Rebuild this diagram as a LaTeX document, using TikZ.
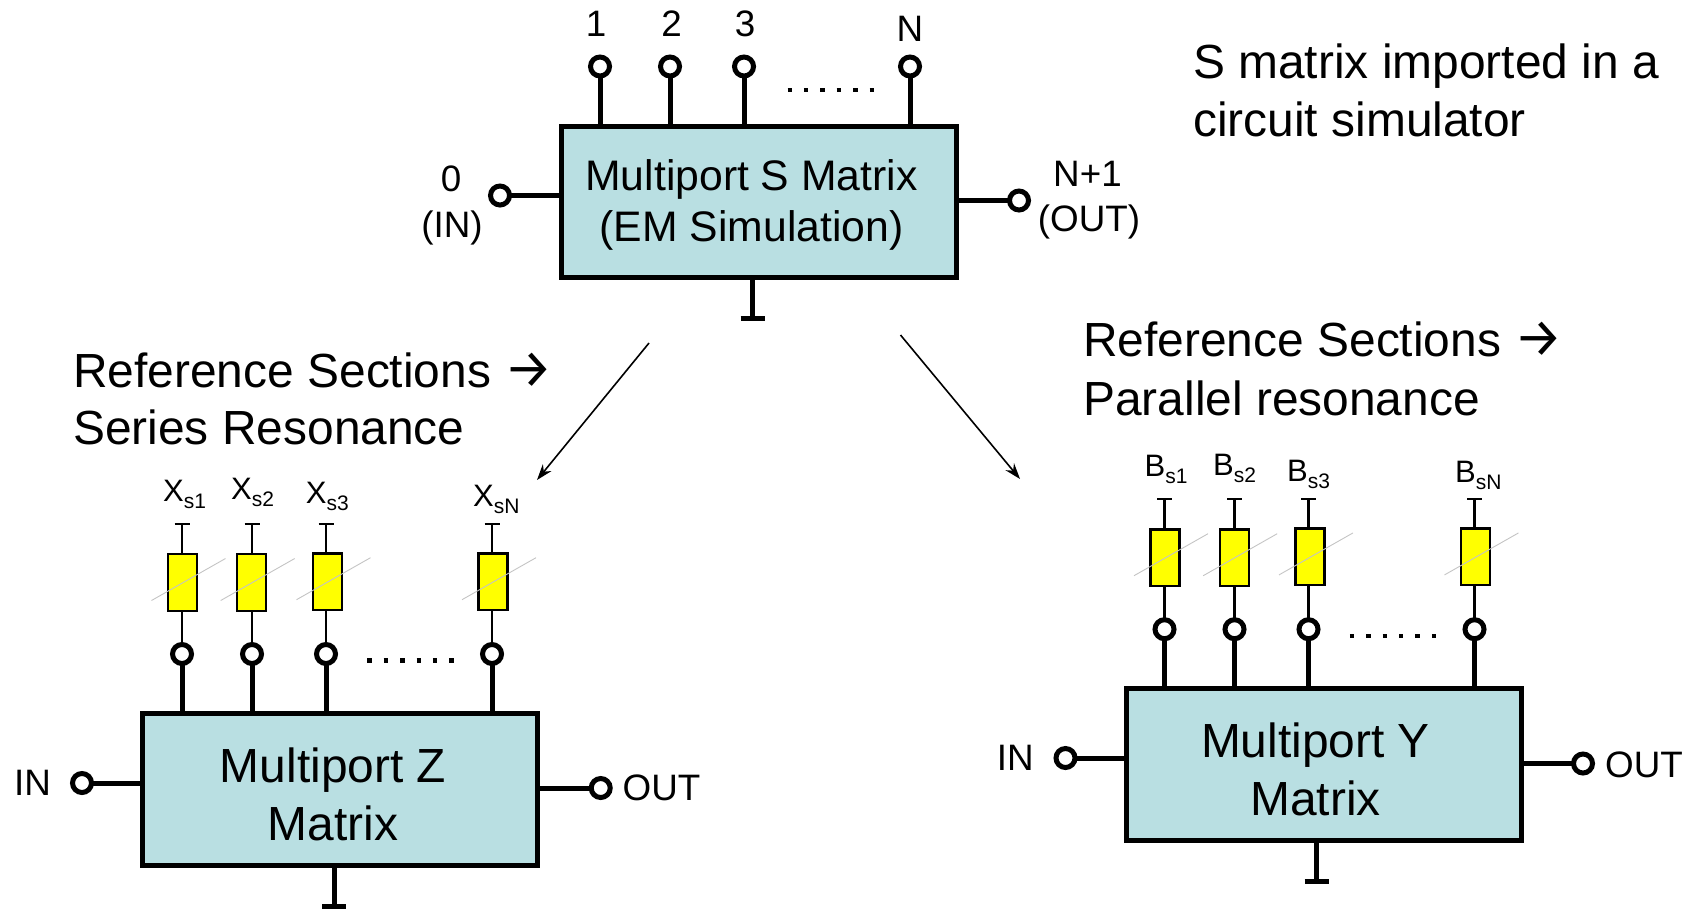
\documentclass[tikz,border=0pt]{standalone}
\usepackage{fontspec}
\setmainfont{Liberation Sans}
\newfontfamily\arrowfont{Fira Sans}
\usetikzlibrary{arrows.meta}
\definecolor{boxfill}{RGB}{185,223,226}
\definecolor{diag}{RGB}{196,196,196}
\definecolor{resoyellow}{RGB}{255,255,0}
\newcommand{\fbig}{\fontsize{47.9}{57}\selectfont}
\newcommand{\fmid}{\fontsize{42.7}{55}\selectfont}
\newcommand{\fsmall}{\fontsize{36.8}{46}\selectfont}
\newcommand{\flabel}{\fontsize{31}{36}\selectfont}
\newcommand{\fsub}{\fontsize{21}{24}\selectfont}
\newcommand{\rarr}{{\arrowfont\fontsize{54}{57}\selectfont →}}
\newcommand{\subl}[2]{#1\raisebox{-7pt}{\fsub #2}}
\tikzset{
  blockbox/.style={draw=black,line width=5pt,fill=boxfill,inner sep=0pt,outer sep=0pt,align=center},
  portring/.style={circle,draw=black,line width=5pt,fill=white,minimum size=19pt,inner sep=0pt,outer sep=0pt},
  wire/.style={draw=black,line width=5pt},
  thinwire/.style={draw=black,line width=2.3pt},
  reso/.style={draw=black,line width=2.4pt,fill=resoyellow,minimum width=29pt,minimum height=56.5pt,inner sep=0pt,outer sep=0pt},
  slash/.style={draw=diag,line width=0.9pt},
  gndbar/.style={draw=black,line width=5pt},
  dotrow/.style={draw=black,line width=4.4pt,dash pattern=on 4.4pt off 12pt},
  bigtext/.style={font=\fbig,align=left,anchor=base west,inner sep=0pt},
  smalltext/.style={font=\fsmall,anchor=base,inner sep=0pt},
  portlabel/.style={font=\flabel,anchor=base west,inner sep=0pt},
  leadarrow/.style={draw=black,line width=1.6pt,-{Stealth[length=16pt,width=11pt]}}
}
\begin{document}
\begin{tikzpicture}[x=1pt,y=-1pt]
\useasboundingbox (0,0) rectangle (1691,908);
% top block
\node[blockbox,minimum width=395pt,minimum height=151pt] (smat) at (758.5,202) {};
\node[font=\fmid,anchor=base,inner sep=0pt] (smatA) at (751.5,190.5) {Multiport S Matrix};
\node[font=\fmid,anchor=base,inner sep=0pt] (smatB) at (751.5,241) {(EM Simulation)};
\foreach \n/\x/\lx/\ly/\tx in {1/600/596/36.5/1,2/670/671.5/36.5/2,3/744/745/36.5/3,4/910/910/41.5/N}{
  \node[portring] (sp\n) at (\x,66.5) {};
  \draw[wire] (sp\n.south) -- (sp\n.south |- smat.north);
  \node[smalltext] (sl\n) at (\lx,\ly) {\tx};
}
\coordinate (sdotsA) at (787.5,90);
\coordinate (sdotsB) at (873.9,90);
\draw[dotrow] (sdotsA) -- (sdotsB);
\node[portring] (sin) at (500,195.5) {};
\draw[wire] (sin.east) -- (sin.east -| smat.west);
\node[smalltext] (sinA) at (451,191.5) {0};
\node[smalltext] (sinB) at (452,237) {(IN)};
\node[portring] (sout) at (1019,200.5) {};
\draw[wire] (sout.west) -- (sout.west -| smat.east);
\node[smalltext] (soutA) at (1087.5,186.5) {N+1};
\node[smalltext] (soutB) at (1089,231.5) {(OUT)};
\coordinate (sgnd) at (752.5,318);
\draw[wire] (sgnd |- smat.south) -- (sgnd);
\draw[gndbar] ([xshift=-12pt]sgnd) -- ([xshift=12pt]sgnd);
% captions
\node[bigtext] (capA) at (1193,78) {S matrix imported in a};
\node[bigtext] (capB) at (1193,136) {circuit simulator};
\node[bigtext] (zcapA) at (73,387) {Reference Sections \rarr};
\node[bigtext] (zcapB) at (73,444) {Series Resonance};
\node[bigtext] (ycapA) at (1083,356) {Reference Sections \rarr};
\node[bigtext] (ycapB) at (1083,415) {Parallel resonance};
% arrows
\coordinate (aA) at (649,343); \coordinate (aB) at (537,480);
\coordinate (aC) at (900.5,335); \coordinate (aD) at (1020,479);
\draw[leadarrow] (aA) -- (aB);
\draw[leadarrow] (aC) -- (aD);
% lower blocks
\foreach \pf/\dx/\dy/\Sx/\bx in {z/0/0/Z/340,y/982.5/-24.8/Y/341.2}{
\begin{scope}[shift={(\dx,\dy)}]
  \node[blockbox,minimum width=395pt,minimum height=152pt] (\pf box) at (\bx,789) {};
  \node[font=\fbig,anchor=base,inner sep=0pt] (\pf txtA) at (333,782) {Multiport \Sx};
  \node[font=\fbig,anchor=base,inner sep=0pt] (\pf txtB) at (333,840) {Matrix};
  \foreach \n/\x/\rx/\ry in {1/182/182.5/582.5,2/252/251.7/582.5,3/326/327.5/581.7,4/492/493/581.7}{
    \node[portring] (\pf p\n) at (\x,654) {};
    \draw[wire] (\pf p\n.south) -- (\pf p\n.south |- \pf box.north);
    \node[reso] (\pf r\n) at (\rx,\ry) {};
    \draw[thinwire] (\pf p\n.north) -- (\pf p\n.north |- \pf r\n.south);
    \coordinate (\pf t\n) at (\x,524);
    \draw[thinwire] (\pf t\n |- \pf r\n.north) -- (\pf t\n);
    \draw[thinwire] ([xshift=-7.5pt]\pf t\n) -- ([xshift=7.5pt]\pf t\n);
    \draw[slash] ([shift={(-31,18)}]\pf r\n.center) -- ([shift={(43,-24)}]\pf r\n.center);
  }
  \coordinate (\pf dotsA) at (367.3,660.5);
  \coordinate (\pf dotsB) at (453.7,660.5);
  \draw[dotrow] (\pf dotsA) -- (\pf dotsB);
  \coordinate (\pf g) at (334,906);
  \draw[wire] (\pf g |- \pf box.south) -- (\pf g);
  \draw[gndbar] ([xshift=-12pt]\pf g) -- ([xshift=12pt]\pf g);
\end{scope}
}
% port value labels
\foreach \n/\lx/\ly/\sb in {1/163/501.7/s1,2/231/499/s2,3/305.7/503/s3,4/473/506/sN}{
  \node[portlabel] (zl\n) at (\lx,\ly) {\subl{X}{\sb}};
}
\foreach \n/\lx/\ly/\sb in {1/1144.5/476.7/s1,2/1213/475.7/s2,3/1287/481/s3,4/1455/482.7/sN}{
  \node[portlabel] (yl\n) at (\lx,\ly) {\subl{B}{\sb}};
}
% port terminals, lower left
\node[portring] (zin) at (82,783) {};
\draw[wire] (zin.east) -- (zin.east -| zbox.west);
\node[smalltext,anchor=base west] (zinT) at (14,795) {IN};
\node[portring] (zout) at (600.7,788) {};
\draw[wire] (zout.west) -- (zout.west -| zbox.east);
\node[smalltext,anchor=base west] (zoutT) at (622.5,800) {OUT};
% port terminals, lower right
\node[portring] (yin) at (1065.5,758) {};
\draw[wire] (yin.east) -- (yin.east -| ybox.west);
\node[smalltext,anchor=base west] (yinT) at (996.6,770) {IN};
\node[portring] (yout) at (1583,763.5) {};
\draw[wire] (yout.west) -- (yout.west -| ybox.east);
\node[smalltext,anchor=base west] (youtT) at (1605,777) {OUT};
\end{tikzpicture}
\end{document}
